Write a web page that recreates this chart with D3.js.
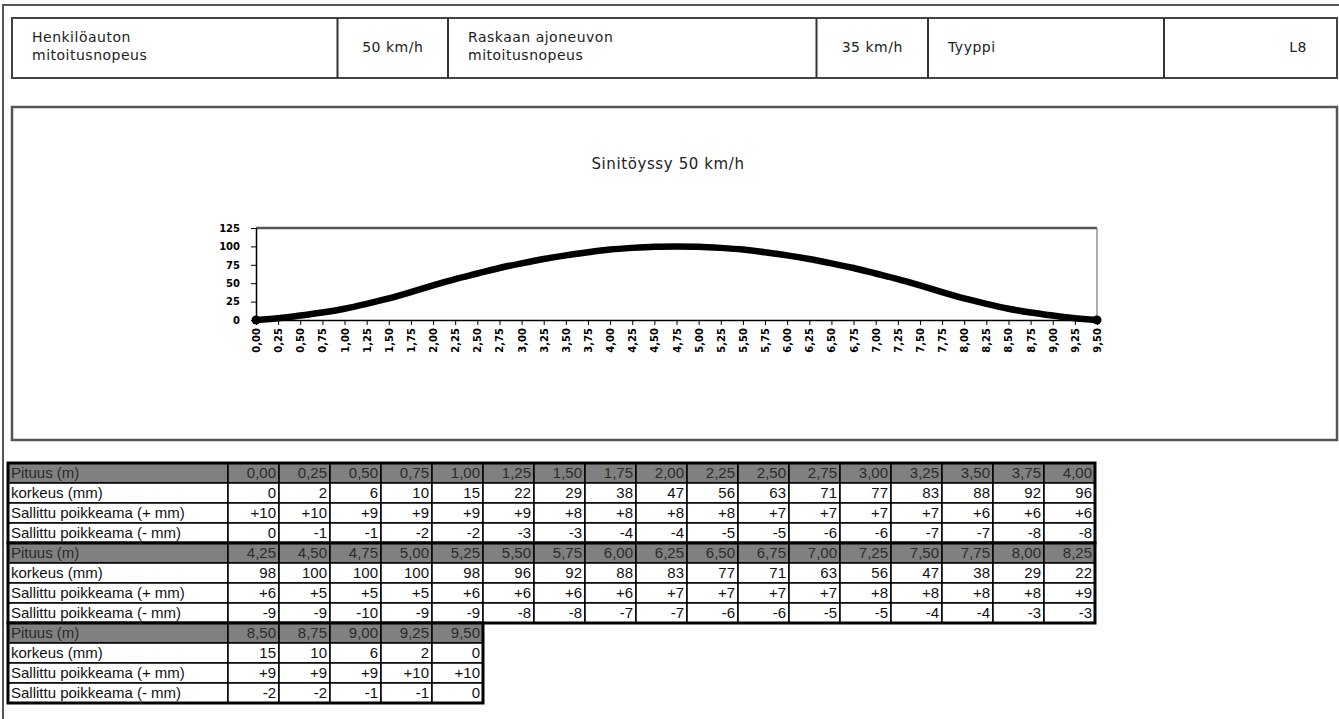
<!DOCTYPE html>
<html>
<head>
<meta charset="utf-8">
<script src="https://cdn.jsdelivr.net/npm/d3@7/dist/d3.min.js"></script>
<style>
body { margin: 0; background: #fff; }
svg { display: block; }
.cad { font-family: "DejaVu Sans", sans-serif; fill: #222; }
.tbl { font-family: "Liberation Sans", Arial, sans-serif; font-size: 15px; }
.axis text { font-family: "DejaVu Sans", sans-serif; font-weight: bold; font-size: 10px; fill: #000; }
</style>
</head>
<body>
<svg id="chart" width="1339" height="719"></svg>
<script>
// values
const pituus = [0, 0.25, 0.5, 0.75, 1, 1.25, 1.5, 1.75, 2, 2.25, 2.5, 2.75, 3, 3.25, 3.5, 3.75, 4,
                4.25, 4.5, 4.75, 5, 5.25, 5.5, 5.75, 6, 6.25, 6.5, 6.75, 7, 7.25, 7.5, 7.75, 8, 8.25,
                8.5, 8.75, 9, 9.25, 9.5];
const korkeus = [0, 2, 6, 10, 15, 22, 29, 38, 47, 56, 63, 71, 77, 83, 88, 92, 96,
                 98, 100, 100, 100, 98, 96, 92, 88, 83, 77, 71, 63, 56, 47, 38, 29, 22,
                 15, 10, 6, 2, 0];
const sallittuPlus = [10, 10, 9, 9, 9, 9, 8, 8, 8, 8, 7, 7, 7, 7, 6, 6, 6,
                      6, 5, 5, 5, 6, 6, 6, 6, 7, 7, 7, 7, 8, 8, 8, 8, 9,
                      9, 9, 9, 10, 10];
const sallittuMiinus = [0, -1, -1, -2, -2, -3, -3, -4, -4, -5, -5, -6, -6, -7, -7, -8, -8,
                        -9, -9, -10, -9, -9, -8, -8, -7, -7, -6, -6, -5, -5, -4, -4, -3, -3,
                        -2, -2, -1, -1, 0];
const rowLabels = ["Pituus (m)", "korkeus (mm)", "Sallittu poikkeama (+ mm)", "Sallittu poikkeama (- mm)"];
const yTicks = [0, 25, 50, 75, 100, 125];
const headerTexts = [["Henkilöauton", "mitoitusnopeus"], ["50 km/h"], ["Raskaan ajoneuvon", "mitoitusnopeus"],
                     ["35 km/h"], ["Tyyppi"], ["L8"]];
const chartTitle = "Sinitöyssy 50 km/h";

const svg = d3.select("#chart");
const fi = d3.formatLocale({decimal: ",", thousands: " ", grouping: [3], currency: ["", " €"], minus: "-"});
const fmtM = fi.format(".2f");
const fmtPlus = fi.format("+d");

// outer frame
svg.append("path").attr("d", "M3,719V5H1339").attr("fill", "none").attr("stroke", "#555").attr("stroke-width", 2);

// header strip
const hx = [12, 337.5, 448, 816.5, 928, 1164, 1337];
svg.append("rect").attr("x", 12).attr("y", 18).attr("width", 1325).attr("height", 60)
    .attr("fill", "none").attr("stroke", "#444").attr("stroke-width", 2);
hx.slice(1, -1).forEach(x => {
    svg.append("line").attr("x1", x).attr("x2", x).attr("y1", 18).attr("y2", 78)
        .attr("stroke", "#333").attr("stroke-width", 2);
});
const hText = svg.append("g").attr("class", "cad").style("font-size", "14px").style("letter-spacing", "0.5px");
headerTexts.forEach((lines, i) => {
    let tx, anchor = "start";
    if (i === 1 || i === 3) { tx = (hx[i] + hx[i + 1]) / 2; anchor = "middle"; }
    else if (i === 5) { tx = 1307; anchor = "end"; }
    else tx = hx[i] + 20;
    const y0 = lines.length === 1 ? 47 : 37;
    lines.forEach((l, j) => {
        hText.append("text").attr("x", tx).attr("y", y0 + j * 18).attr("dy", "0.35em")
            .attr("text-anchor", anchor).text(l);
    });
});

// chart box
svg.append("rect").attr("x", 12).attr("y", 107).attr("width", 1325).attr("height", 333)
    .attr("fill", "none").attr("stroke", "#555").attr("stroke-width", 2.5);
svg.append("text").attr("class", "cad").attr("x", 668).attr("y", 164).attr("dy", "0.35em")
    .attr("text-anchor", "middle").style("font-size", "15px").style("letter-spacing", "0.6px").text(chartTitle);

const x = d3.scaleLinear().domain([0, 9.5]).range([256, 1097]);
const y = d3.scaleLinear().domain([0, 125]).range([320, 228]);

// plot frame (top + right)
svg.append("line").attr("x1", x(0)).attr("x2", x(9.5)).attr("y1", y(125)).attr("y2", y(125))
    .attr("stroke", "#555").attr("stroke-width", 2.5);
svg.append("line").attr("x1", x(9.5)).attr("x2", x(9.5)).attr("y1", y(125)).attr("y2", y(0))
    .attr("stroke", "#777").attr("stroke-width", 1.2);

const xAxis = svg.append("g").attr("class", "axis").attr("transform", `translate(0,${y(0)})`)
    .call(d3.axisBottom(x).tickValues(pituus).tickFormat(fmtM).tickSize(5).tickSizeOuter(0));
xAxis.selectAll("text").attr("transform", "rotate(-90)").attr("text-anchor", "end")
    .attr("x", -8).attr("y", 0).attr("dy", "0.35em");
xAxis.select(".domain").attr("stroke-width", 1.5);

const yAxis = svg.append("g").attr("class", "axis").attr("transform", `translate(${x(0)},0)`)
    .call(d3.axisLeft(y).tickValues(yTicks).tickSize(5).tickSizeOuter(0).tickPadding(11));
yAxis.select(".domain").attr("stroke-width", 1.5);

// profile curve (smoothed like the spreadsheet line)
const line = d3.line().x((d, i) => x(pituus[i])).y(d => y(d)).curve(d3.curveBasis);
svg.append("path").datum(korkeus).attr("d", line).attr("fill", "none")
    .attr("stroke", "#000").attr("stroke-width", 6.5).attr("stroke-linecap", "round");
svg.selectAll("circle.end").data([0, korkeus.length - 1]).enter().append("circle")
    .attr("class", "end").attr("cx", i => x(pituus[i])).attr("cy", i => y(korkeus[i])).attr("r", 4.5);

// data table
const perBlock = 17;
const rowH = 20, tableTop = 463, labelX = 8, labelW = 220;
const colX = d3.scaleLinear().domain([0, 1]).range([228, 279]);
const rows = [pituus.map(fmtM), korkeus.map(String), sallittuPlus.map(fmtPlus), sallittuMiinus.map(String)];
const blocks = d3.range(0, pituus.length, perBlock);
const tbl = svg.append("g").attr("class", "tbl");

blocks.forEach((start, b) => {
    const n = Math.min(perBlock, pituus.length - start);
    rows.forEach((vals, r) => {
        const yy = tableTop + (b * 4 + r) * rowH;
        const fill = r === 0 ? "#808080" : "#fff";
        const col = r === 0 ? "#2b2b2b" : "#111";
        tbl.append("rect").attr("x", labelX).attr("y", yy).attr("width", labelW).attr("height", rowH)
            .attr("fill", fill).attr("stroke", "#000").attr("stroke-width", 1.5);
        tbl.append("text").attr("x", labelX + 3).attr("y", yy + rowH / 2).attr("dy", "0.35em")
            .attr("fill", col).text(rowLabels[r]);
        d3.range(n).forEach(k => {
            tbl.append("rect").attr("x", colX(k)).attr("y", yy).attr("width", colX(1) - colX(0)).attr("height", rowH)
                .attr("fill", fill).attr("stroke", "#000").attr("stroke-width", 1.5);
            tbl.append("text").attr("x", colX(k + 1) - 3).attr("y", yy + rowH / 2).attr("dy", "0.35em")
                .attr("text-anchor", "end").attr("fill", col).text(vals[start + k]);
        });
    });
    tbl.append("rect").attr("x", labelX).attr("y", tableTop + b * 4 * rowH)
        .attr("width", colX(n) - labelX).attr("height", 4 * rowH)
        .attr("fill", "none").attr("stroke", "#000").attr("stroke-width", 3);
});
</script>
</body>
</html>
